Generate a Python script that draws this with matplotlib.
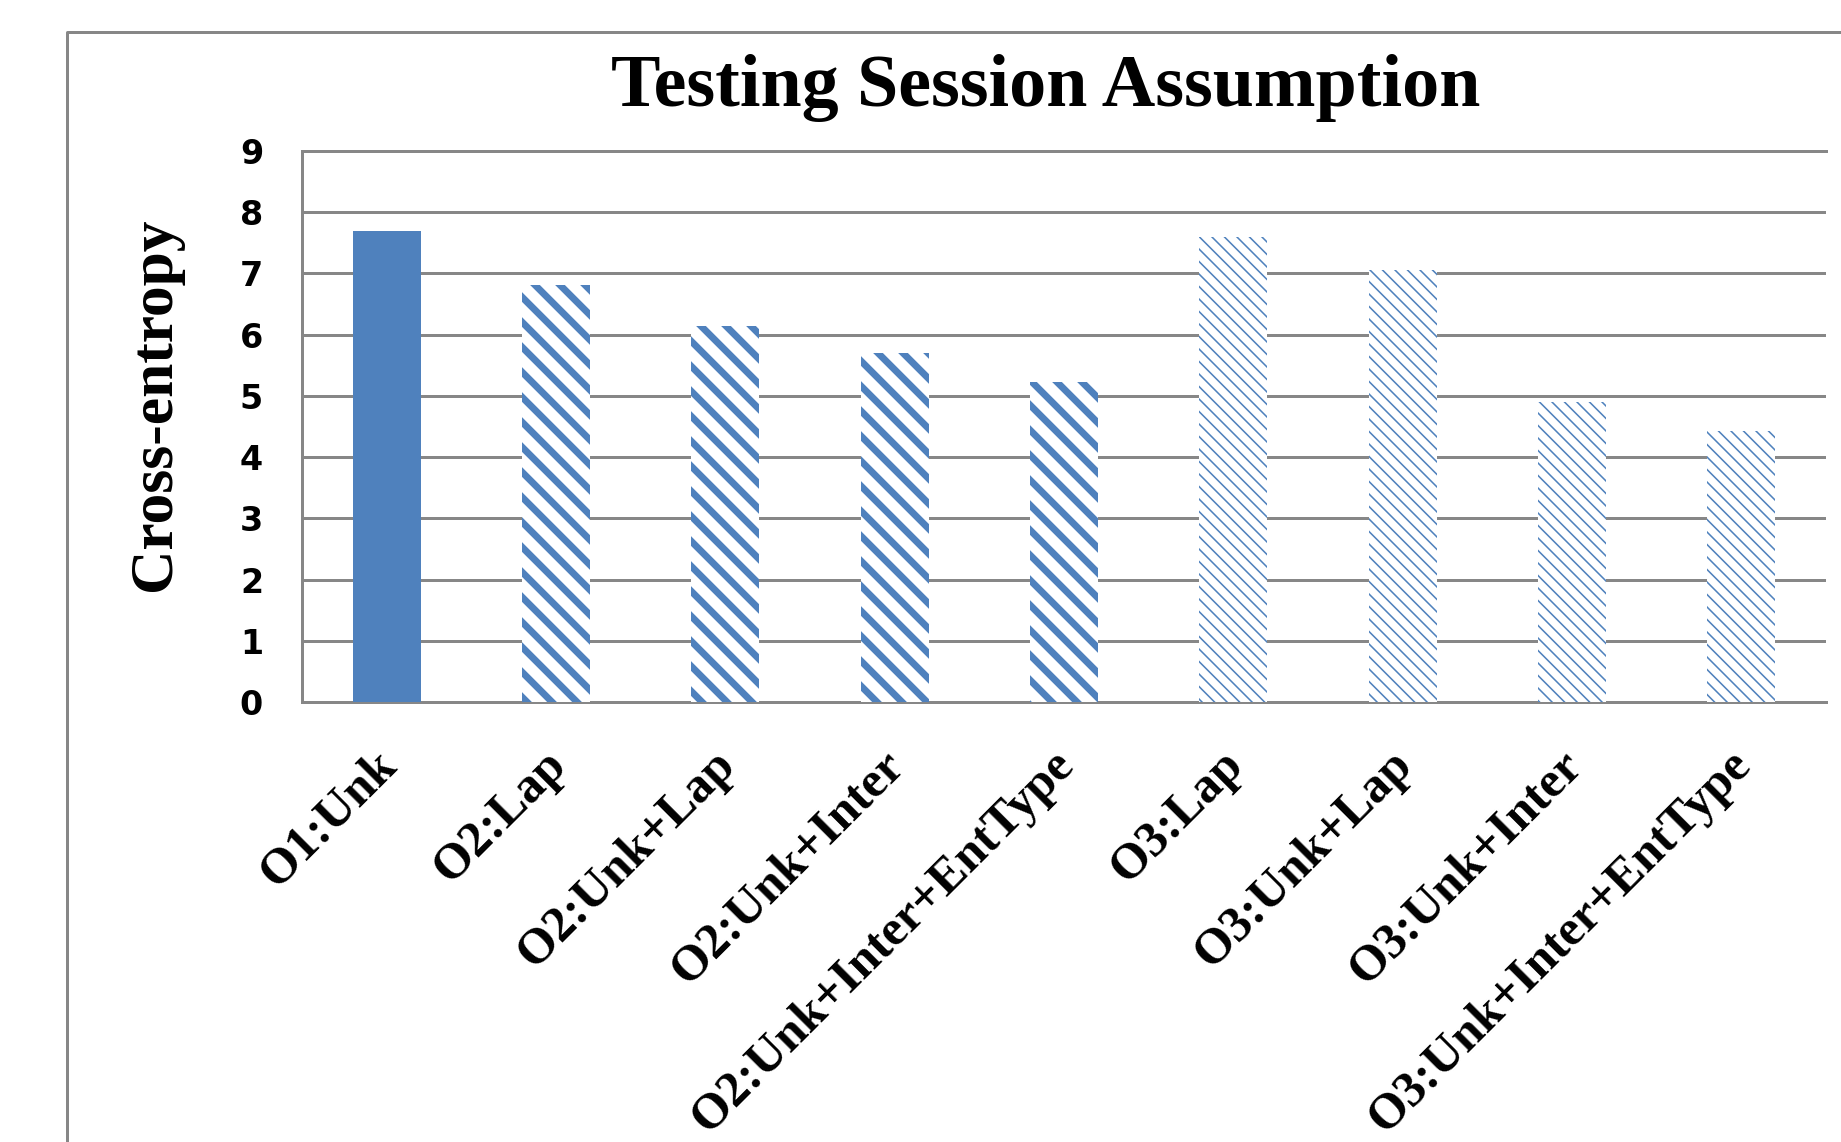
import matplotlib
matplotlib.use('Agg')
import matplotlib.pyplot as plt
from matplotlib.transforms import ScaledTranslation
from matplotlib.lines import Line2D

# ---- data ----
categories = ['O1:Unk', 'O2:Lap', 'O2:Unk+Lap', 'O2:Unk+Inter',
              'O2:Unk+Inter+EntType', 'O3:Lap', 'O3:Unk+Lap',
              'O3:Unk+Inter', 'O3:Unk+Inter+EntType']
values = [7.69, 6.81, 6.14, 5.70, 5.22, 7.60, 7.05, 4.90, 4.43]
yticks = [0, 1, 2, 3, 4, 5, 6, 7, 8, 9]
title = 'Testing Session Assumption'
ylabel = 'Cross-entropy'

# ---- styles ----
BLUE = '#4F81BD'
GRAY = '#878787'
WIDE = '\\' * 2
FINE = '\\' * 4
hatch_styles = ['', WIDE, WIDE, WIDE, WIDE, FINE, FINE, FINE, FINE]
hatch_widths = [1.0, 3.3, 3.3, 3.3, 3.3, 0.75, 0.75, 0.75, 0.75]

DPI = 150
W, H = 1841, 1142
fig = plt.figure(figsize=(W / DPI, H / DPI), dpi=DPI)
fig.patch.set_facecolor('white')

ax_left, ax_right, ax_top, ax_bottom = 302, 1826, 151, 702
ax = fig.add_axes([ax_left / W, 1 - ax_bottom / H,
                   (ax_right - ax_left) / W, (ax_bottom - ax_top) / H])

for i, (v, h, hw) in enumerate(zip(values, hatch_styles, hatch_widths)):
    with plt.rc_context({'hatch.linewidth': hw}):
        if h == '':
            bars = ax.bar(i, v, width=0.40, color=BLUE, linewidth=0, zorder=3)
        else:
            bars = ax.bar(i, v, width=0.40, facecolor='white', edgecolor=BLUE,
                          hatch=h, linewidth=0, zorder=3)
        for p in bars:
            if hasattr(p, 'set_hatch_linewidth'):
                p.set_hatch_linewidth(hw)

ax.set_xlim(-0.5, len(categories) - 0.5)
ax.set_ylim(0, 9)
ax.set_yticks(yticks)
ax.set_yticklabels([str(t) for t in yticks], fontfamily='DejaVu Sans',
                   fontweight='bold', fontsize=16)
ax.tick_params(axis='y', length=0, pad=18.7)
ax.set_xticks(range(len(categories)))
ax.set_xticklabels([''] * len(categories))
ax.tick_params(axis='x', length=0)

ax.yaxis.grid(True, color=GRAY, linewidth=1.44, zorder=0)
ax.set_axisbelow(True)
for s in ['left', 'bottom', 'top']:
    ax.spines[s].set_color(GRAY)
    ax.spines[s].set_linewidth(1.44)
ax.spines['right'].set_visible(False)

trans = ax.get_xaxis_transform() + ScaledTranslation(3 / DPI, -56 / DPI,
                                                      fig.dpi_scale_trans)
for i, c in enumerate(categories):
    ax.text(i, 0, c, transform=trans, rotation=45, ha='right', va='center',
            rotation_mode='anchor', fontfamily='Liberation Serif',
            fontweight='bold', fontsize=24, clip_on=False)

fig.text(1046 / W, 1 - 106 / H, title, ha='center', va='baseline',
         fontfamily='Liberation Serif', fontweight='bold', fontsize=35.5)
fig.text(155 / W, 1 - 404 / H, ylabel, rotation=90, ha='center', va='center',
         fontfamily='Liberation Serif', fontweight='bold', fontsize=29.5)

fig.add_artist(Line2D([67 / W, 67 / W, 1.0], [0, 1 - 32 / H, 1 - 32 / H],
                      transform=fig.transFigure, color=GRAY, linewidth=1.44))

fig.savefig('out.png', dpi=DPI)
